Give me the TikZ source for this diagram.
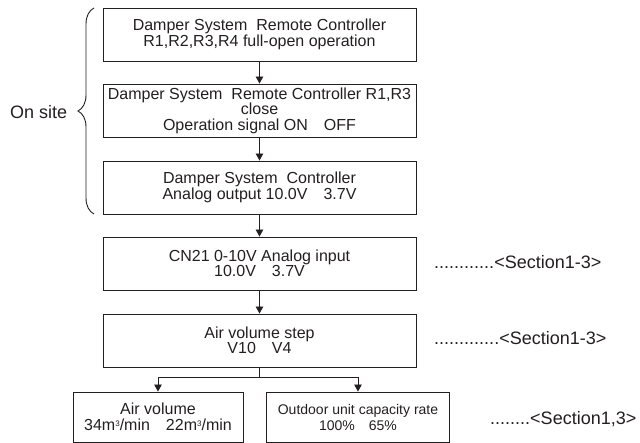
\documentclass[tikz,border=0pt]{standalone}
\usepackage{fontspec}
\setmainfont{Liberation Sans}
\usetikzlibrary{arrows.meta,decorations.pathreplacing}
\definecolor{ink}{RGB}{35,31,32}
\newcommand{\cubm}{m\raisebox{0.5ex}{\fontsize{8}{8}\selectfont 3}}
\begin{document}
\begin{tikzpicture}[x=1pt,y=-1pt,
  box/.style={draw=ink, line width=0.9pt, minimum width=313pt, minimum height=53pt,
    inner sep=0pt, align=center, text=ink, font=\fontsize{16}{15.5}\selectfont},
  conn/.style={draw=ink, line width=0.9pt, -{Triangle[width=7.5pt,length=7pt]}},
  plain/.style={draw=ink, line width=0.9pt},
  note/.style={anchor=west, inner sep=0pt, text=ink, font=\fontsize{18}{18}\selectfont}]
\useasboundingbox (0,0) rectangle (640,443);

\node[box] (b1) at (259.5,34.5) {Damper System\ \ Remote Controller\\R1,R2,R3,R4 full-open operation};
\node[box] (b2) at (259.5,110.5) {Damper System\ \ Remote Controller R1,R3\\close\\Operation signal ON\quad OFF};
\node[box] (b3) at (259.5,187.5) {Damper System\ \ Controller\\Analog output 10.0V\quad 3.7V};
\node[box] (b4) at (259.5,263.5) {CN21 0-10V Analog input\\10.0V\quad 3.7V};
\node[box] (b5) at (259.5,340.5) {Air volume step\\V10\quad V4};
\node[box, minimum width=170pt, minimum height=50pt] (b6) at (158,417) {Air volume\\34\cubm/min\quad 22\cubm/min};
\node[box, minimum width=183pt, minimum height=50pt, font=\fontsize{14}{16}\selectfont] (b7) at (358,417) {Outdoor unit capacity rate\\100\%\quad 65\%};

\node[note] (s1) at (434,262) {............<Section1-3>};
\node[note] (s2) at (434,338) {.............<Section1-3>};
\node[note] (s3) at (490,419) {........<Section1,3>};
\node[note] (os) at (10,112) {On site};

\coordinate (bt) at (94,8);
\coordinate (bb) at (94,214);
\draw[plain, decorate, decoration={brace, amplitude=16pt}] (bb) -- (bt);

\draw[conn] (b1) -- (b2);
\draw[conn] (b2) -- (b3);
\draw[conn] (b3) -- (b4);
\draw[conn] (b4) -- (b5);
\coordinate (br) at (259.5,377);
\draw[plain] (b5.south) -- (br);
\draw[conn] (br) -| (b6.north);
\draw[conn] (br) -| (b7.north);
\end{tikzpicture}
\end{document}
